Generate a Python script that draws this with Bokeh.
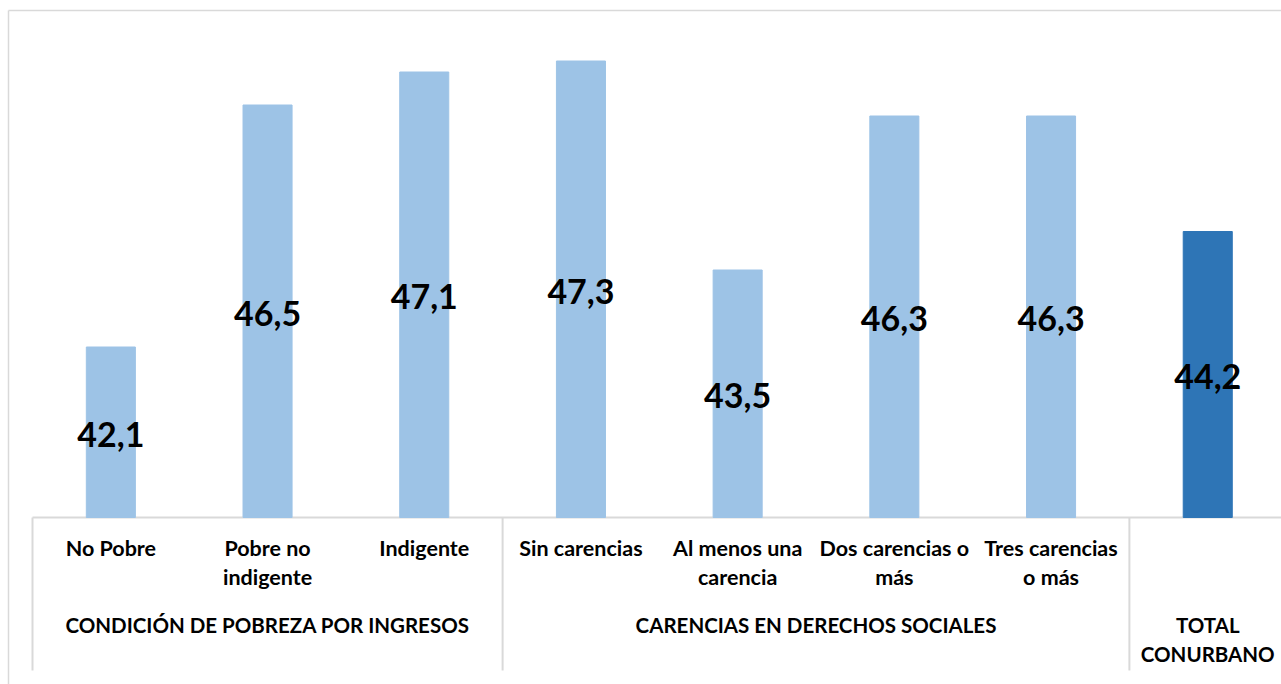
from bokeh.plotting import figure
from bokeh.models import Range1d, ColumnDataSource
from bokeh.core.properties import value
from bokeh.embed import file_html
from bokeh.resources import INLINE

# ---- data ----
categories = ["No Pobre", "Pobre no\nindigente", "Indigente", "Sin carencias",
              "Al menos una\ncarencia", "Dos carencias o\nmás", "Tres carencias\no más", ""]
values = [42.1, 46.5, 47.1, 47.3, 43.5, 46.3, 46.3, 44.2]
value_labels = ["42,1", "46,5", "47,1", "47,3", "43,5", "46,3", "46,3", "44,2"]
groups = ["CONDICIÓN DE POBREZA POR INGRESOS", "CARENCIAS EN DERECHOS SOCIALES", "TOTAL\nCONURBANO"]
group_sizes = [3, 4, 1]
bar_colors = ["#9DC3E6"] * 7 + ["#2E75B6"]
y_base = 39.0

# ---- layout (page pixel geometry) ----
W, H = 1281, 684
px_per_cat = 156.7
px_per_unit = 55.0
cat_left_px = 32.0        # first category boundary, px from left
base_px = 517.0           # baseline, px from top

x0 = -cat_left_px / px_per_cat
x1 = (W - cat_left_px) / px_per_cat
y1 = y_base + base_px / px_per_unit
y0 = y_base - (H - base_px) / px_per_unit

def dy(px_below_base):
    return y_base - px_below_base / px_per_unit

def dx(px_from_left):
    return (px_from_left - cat_left_px) / px_per_cat

def ytop(px_from_top):
    return y1 - px_from_top / px_per_unit

p = figure(width=W, height=H, output_backend="svg", toolbar_location=None,
           x_range=Range1d(x0, x1), y_range=Range1d(y0, y1),
           min_border_left=0, min_border_right=0, min_border_top=0, min_border_bottom=0)
p.axis.visible = False
p.grid.visible = False
p.outline_line_color = None
p.background_fill_color = "white"
p.border_fill_color = "white"

grey = "#D9D9D9"
# outer chart border (left and top)
p.segment(x0=[dx(8), dx(8)], y0=[y0, ytop(10)],
          x1=[dx(8), x1], y1=[ytop(10), ytop(10)],
          line_color=grey, line_width=1.5)
# category axis line
p.segment(x0=[0], y0=[y_base], x1=[x1], y1=[y_base], line_color=grey, line_width=2)
# group separators
bounds = [0]
for s in group_sizes:
    bounds.append(bounds[-1] + s)
sep_x = [b for b in bounds[:-1]]
p.segment(x0=sep_x, y0=[y_base] * len(sep_x), x1=sep_x, y1=[dy(153)] * len(sep_x),
          line_color=grey, line_width=2)

# bars
xs = [i + 0.5 for i in range(len(values))]
src = ColumnDataSource(dict(x=xs, top=values, color=bar_colors,
                            lab=value_labels, mid=[(v + y_base) / 2 for v in values]))
p.vbar(x="x", top="top", bottom=y_base, width=0.313, color="color", source=src)

# data labels
p.text(x="x", y="mid", text="lab", source=src, text_align="center", text_baseline="middle",
       text_font=value("Lato"), text_font_style="bold", text_font_size="34px",
       text_color="black", y_offset=2)

# category labels
lx, ly, lt = [], [], []
for i, c in enumerate(categories):
    for j, line in enumerate(c.split("\n")):
        if line:
            lx.append(i + 0.5)
            ly.append(dy(30 + 29 * j))
            lt.append(line)
p.text(x=lx, y=ly, text=lt, text_align="center", text_baseline="middle",
       text_font=value("Lato"), text_font_style="bold", text_font_size="21.5px", text_color="black")

# group labels
gx, gy, gt = [], [], []
for k, g in enumerate(groups):
    cx = (bounds[k] + bounds[k + 1]) / 2
    for j, line in enumerate(g.split("\n")):
        gx.append(cx)
        gy.append(dy(107 + 29 * j))
        gt.append(line)
p.text(x=gx, y=gy, text=gt, text_align="center", text_baseline="middle",
       text_font=value("Lato"), text_font_style="bold", text_font_size="20.5px", text_color="black")

open("out.html", "w").write(file_html(p, INLINE))
